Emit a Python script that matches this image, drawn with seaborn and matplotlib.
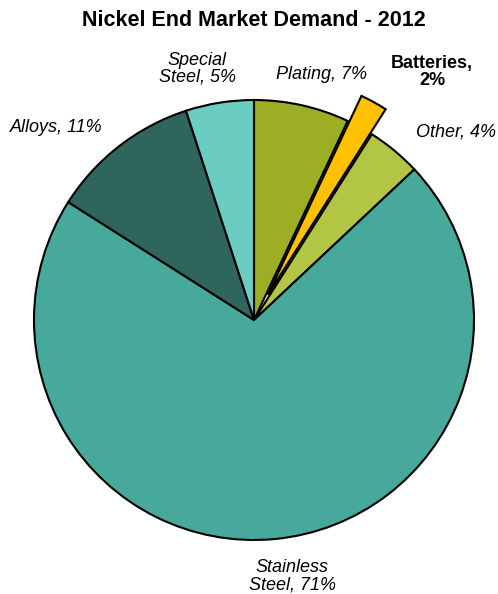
import seaborn as sns
import matplotlib.pyplot as plt

# Nickel end market demand, 2012 (share in %), clockwise from the top
categories = ["Plating", "Batteries", "Other", "Stainless Steel", "Alloys", "Special Steel"]
shares = [7, 2, 4, 71, 11, 5]
label_texts = ["Plating, 7%", "Batteries,\n2%", "Other, 4%",
               "Stainless\nSteel, 71%", "Alloys, 11%", "Special\nSteel, 5%"]

colors = ["#9CAE24", "#FFC000", "#B3C644", "#47A99B", "#2E665D", "#6BCDC2"]
explode = [0, 0.13, 0, 0, 0, 0]

# label centres in pie units (radius = 1)
label_xy = [(0.305, 1.114), (0.809, 1.127), (0.918, 0.855),
            (0.173, -1.164), (-0.90, 0.877), (-0.259, 1.141)]

sns.set_theme(style="white")
plt.rcParams["font.family"] = ["Liberation Sans", "DejaVu Sans"]

fig = plt.figure(figsize=(4.98, 5.94), dpi=100)
ax = fig.add_axes([0, 0, 1, 1])

ax.pie(
    shares,
    colors=colors,
    explode=explode,
    startangle=90,
    counterclock=False,
    wedgeprops=dict(edgecolor="black", linewidth=1.5),
)

for name, txt, (x, y) in zip(categories, label_texts, label_xy):
    bold = name == "Batteries"
    ax.text(x, y, txt, ha="center", va="center", fontsize=13, linespacing=1.0,
            fontweight="bold" if bold else "normal",
            fontstyle="normal" if bold else "italic", color="black")

# radius of 220 px, centre at (254, 320) px from the top-left
ax.set_xlim(-254 / 220, (498 - 254) / 220)
ax.set_ylim(-(594 - 320) / 220, 320 / 220)
ax.set_aspect("equal", adjustable="box")
ax.axis("off")

fig.text(254 / 498, 1 - 20 / 594, "Nickel End Market Demand - 2012",
         ha="center", va="center", fontsize=15.5, fontweight="bold", color="black")

fig.savefig("out.png", dpi=100, facecolor="white")
